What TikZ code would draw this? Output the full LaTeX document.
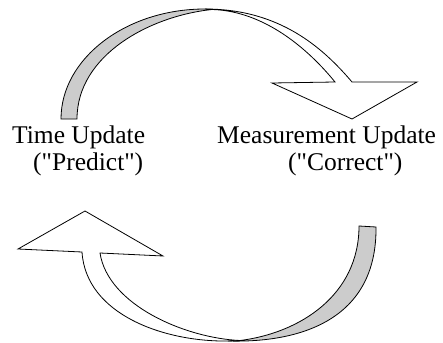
\documentclass[tikz,border=0pt]{standalone}
\usepackage{fontspec}
\setmainfont{Liberation Serif}[Ligatures=TeXOff]
\begin{document}
\begin{tikzpicture}[x=1pt,y=-1pt,
  ribbon/.style={draw=black,line width=0.8pt,line join=miter},
  backside/.style={ribbon,fill=black!20},
  frontside/.style={ribbon,fill=white},
  lbl/.style={anchor=base west,inner sep=0pt,align=left,font=\fontsize{25.5}{27}\selectfont}]
\useasboundingbox (0,0) rectangle (443,342);
% top arrow (Time Update -> Measurement Update)
\draw[frontside] (205,9) .. controls (280,9) and (323,48) .. (352,82)
  -- (417,82) -- (352,119) -- (272,83) -- (335,82)
  .. controls (309,50) and (265,11) .. (212,9.5) -- cycle;
\draw[backside] (61,119) .. controls (61,58.5) and (126,9) .. (205,9)
  -- (212,9.5) .. controls (150,16) and (77,55) .. (77,119) -- cycle;
% bottom arrow (Measurement Update -> Time Update)
\draw[frontside] (228,341) .. controls (165,342) and (86,315) .. (82,252)
  -- (18,249) -- (85,211) -- (163,256) -- (100,253)
  .. controls (108,305) and (185,338) .. (240,340.5) -- cycle;
\draw[backside] (376,227) .. controls (377,320) and (300,343) .. (228,341)
  -- (240,340.5) .. controls (300,333) and (359,295) .. (359,226) -- cycle;
% labels
\node[lbl] (tu) at (12,170) {Time Update\\\hspace*{21pt}("Predict")};
\node[lbl] (mu) at (217,170) {Measurement Update\\\hspace*{71pt}("Correct")};
\end{tikzpicture}
\end{document}
